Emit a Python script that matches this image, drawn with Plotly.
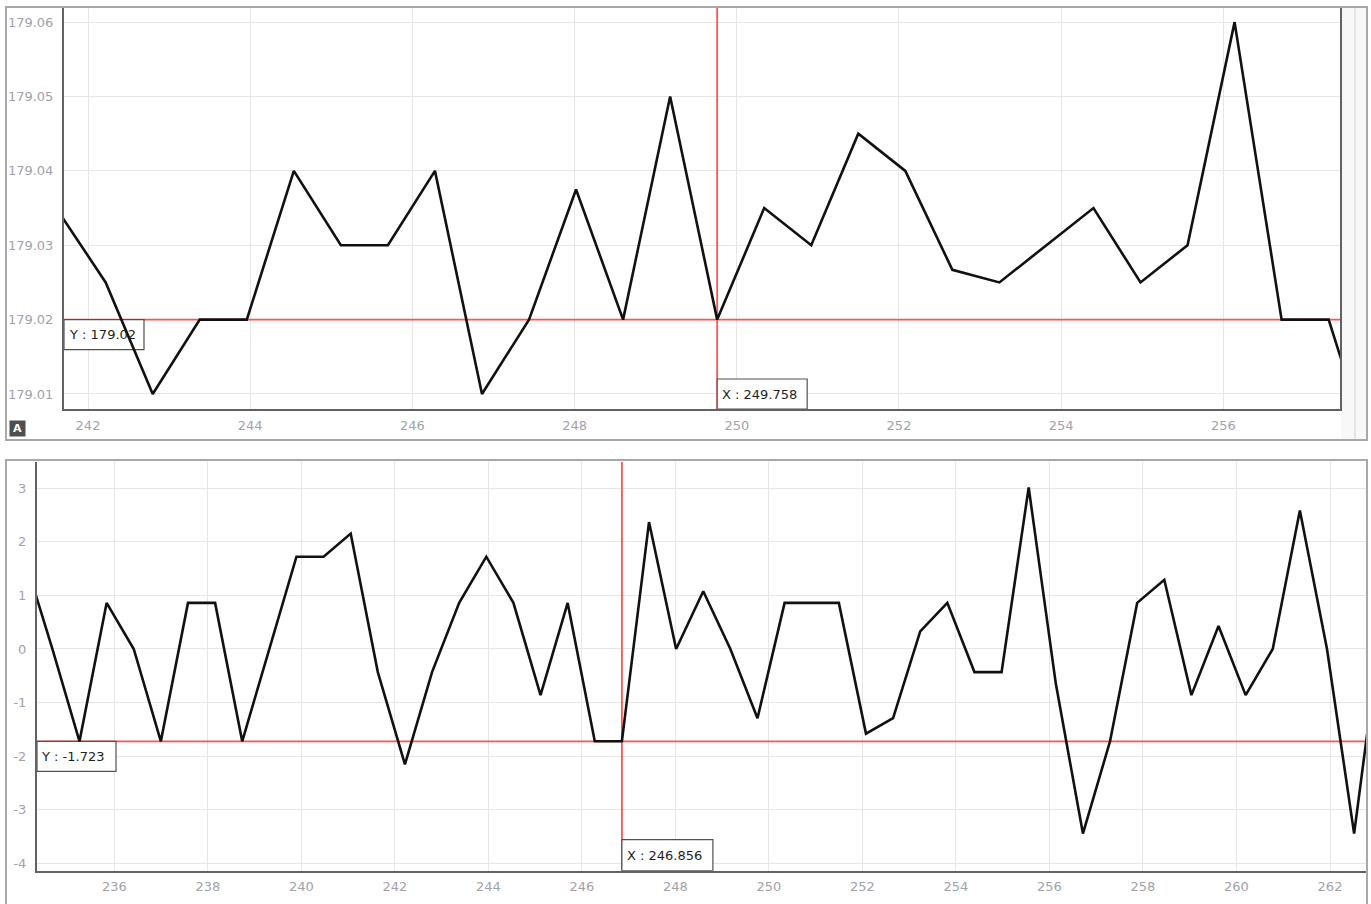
import plotly.graph_objects as go

W, H = 1371, 904

# ---------------- data ----------------
top_x = [241.638, 242.218, 242.798, 243.378, 243.958, 244.538, 245.118, 245.698,
         246.278, 246.858, 247.438, 248.018, 248.598, 249.178, 249.758, 250.338,
         250.918, 251.498, 252.078, 252.658, 253.238, 253.818, 254.398, 254.978,
         255.558, 256.138, 256.718, 257.298, 257.878]
top_y = [179.0345, 179.025, 179.010, 179.020, 179.020, 179.040, 179.030, 179.030,
         179.040, 179.010, 179.020, 179.0375, 179.020, 179.050, 179.020, 179.035,
         179.030, 179.045, 179.040, 179.0267, 179.025, 179.030, 179.035, 179.025,
         179.030, 179.060, 179.020, 179.020, 179.000]

bot_x = [234.096, 234.676, 235.256, 235.836, 236.416, 236.996, 237.576, 238.156,
         238.736, 239.316, 239.896, 240.476, 241.056, 241.636, 242.216, 242.796,
         243.376, 243.956, 244.536, 245.116, 245.696, 246.276, 246.856, 247.436,
         248.016, 248.596, 249.176, 249.756, 250.336, 250.916, 251.496, 252.076,
         252.656, 253.236, 253.816, 254.396, 254.976, 255.556, 256.136, 256.716,
         257.296, 257.876, 258.456, 259.036, 259.616, 260.196, 260.776, 261.356,
         261.936, 262.516, 263.096]
bot_y = [1.65, 0.0, -1.723, 0.861, 0.0, -1.723, 0.861, 0.861,
         -1.723, 0.0, 1.723, 1.723, 2.154, -0.431, -2.154, -0.431,
         0.861, 1.723, 0.861, -0.861, 0.861, -1.723, -1.723, 2.369,
         0.0, 1.077, 0.0, -1.292, 0.861, 0.861, 0.861, -1.58,
         -1.292, 0.33, 0.861, -0.431, -0.431, 3.015, -0.646, -3.446,
         -1.723, 0.861, 1.292, -0.861, 0.431, -0.861, 0.0, 2.585,
         0.0, -3.446, 0.431]

top_xticks = [242, 244, 246, 248, 250, 252, 254, 256]
top_xticktext = ["242", "244", "246", "248", "250", "252", "254", "256"]
top_yticks = [179.01, 179.02, 179.03, 179.04, 179.05, 179.06]
top_yticktext = ["179.01", "179.02", "179.03", "179.04", "179.05", "179.06"]

bot_xticks = [236, 238, 240, 242, 244, 246, 248, 250, 252, 254, 256, 258, 260, 262]
bot_xticktext = [str(v) for v in bot_xticks]
bot_yticks = [-4, -3, -2, -1, 0, 1, 2, 3]
bot_yticktext = ["-4", "-3", "-2", "-1", "0", "1", "2", "3"]

top_cross = (249.758, 179.02)
bot_cross = (246.856, -1.723)

top_xrange = [241.704, 257.438]
top_yrange = [179.00798, 179.0619]
bot_xrange = [234.347, 262.77]
bot_yrange = [-4.139, 3.491]

# ---------------- styling ----------------
FONT = "DejaVu Sans"
TICK_COLOR = "#a2a2aa"
GRID = "#e6e6e6"
AXLINE = "#626262"
PANEL = "#a8a8a8"
RED = "#ff5252"


def px(x):
    return x / W


def py(y):
    return 1 - y / H


fig = go.Figure()
fig.add_trace(go.Scatter(x=top_x, y=top_y, mode="lines", xaxis="x", yaxis="y",
                         line=dict(color="#111111", width=2.6), hoverinfo="skip"))
fig.add_trace(go.Scatter(x=bot_x, y=bot_y, mode="lines", xaxis="x2", yaxis="y2",
                         line=dict(color="#111111", width=2.6), hoverinfo="skip"))

common_axis = dict(showgrid=True, gridcolor=GRID, gridwidth=1, zeroline=False,
                   showline=True, linecolor=AXLINE, linewidth=2,
                   tickfont=dict(family=FONT, size=13, color=TICK_COLOR),
                   ticks="", fixedrange=True)

fig.update_layout(
    width=W, height=H,
    margin=dict(l=0, r=0, t=0, b=0),
    paper_bgcolor="white", plot_bgcolor="white",
    showlegend=False,
    xaxis=dict(common_axis, domain=[px(64), px(1340)], range=top_xrange,
               tickvals=top_xticks, ticktext=top_xticktext, anchor="y",
               ticklabelstandoff=3),
    yaxis=dict(common_axis, domain=[py(409), py(8)], range=top_yrange,
               tickvals=top_yticks, ticktext=top_yticktext, anchor="x",
               mirror=True, ticklabelstandoff=6),
    xaxis2=dict(common_axis, domain=[px(37), px(1366)], range=bot_xrange,
                tickvals=bot_xticks, ticktext=bot_xticktext, anchor="y2",
                ticklabelstandoff=3),
    yaxis2=dict(common_axis, domain=[py(870.7), py(462)], range=bot_yrange,
                tickvals=bot_yticks, ticktext=bot_yticktext, anchor="x2",
                ticklabelstandoff=6),
)

shapes = []
# panel frames
shapes.append(dict(type="rect", xref="paper", yref="paper",
                   x0=px(1341), x1=px(1367), y0=py(440), y1=py(7),
                   fillcolor="#f8f8f8", line=dict(width=0), layer="below"))
shapes.append(dict(type="line", xref="paper", yref="paper",
                   x0=px(1355), x1=px(1355), y0=py(440), y1=py(8),
                   line=dict(color="#d2d2d2", width=1), layer="above"))
shapes.append(dict(type="rect", xref="paper", yref="paper",
                   x0=px(6), x1=px(1367), y0=py(440), y1=py(7),
                   line=dict(color=PANEL, width=2), layer="above"))
shapes.append(dict(type="rect", xref="paper", yref="paper",
                   x0=px(6), x1=px(1367), y0=py(915), y1=py(460),
                   line=dict(color=PANEL, width=2), layer="above"))

# crosshairs
for xr, yr, (cx, cy), xrg, yrg in (("x", "y", top_cross, top_xrange, top_yrange),
                                   ("x2", "y2", bot_cross, bot_xrange, bot_yrange)):
    shapes.append(dict(type="line", xref=xr, yref=yr, x0=cx, x1=cx,
                       y0=yrg[0], y1=yrg[1], line=dict(color=RED, width=1.8),
                       layer="between"))
    shapes.append(dict(type="line", xref=xr, yref=yr, x0=xrg[0], x1=xrg[1],
                       y0=cy, y1=cy, line=dict(color=RED, width=1.8),
                       layer="between"))


# label boxes (pixel sized, anchored to crosshair values / axis edges)
def box(xref, yref, xanchor, yanchor, x0, x1, y0, y1):
    return dict(type="rect", xref=xref, yref=yref,
                xsizemode="pixel", xanchor=xanchor, x0=x0, x1=x1,
                ysizemode="pixel", yanchor=yanchor, y0=y0, y1=y1,
                fillcolor="white", line=dict(color="#505050", width=1.2),
                layer="between")


shapes.append(box("x", "y", top_cross[0], top_yrange[0], 0, 90, 0, 30))
shapes.append(box("x", "y", top_xrange[0], top_cross[1], 0, 80, -30, 0))
shapes.append(box("x2", "y2", bot_cross[0], bot_yrange[0], 0, 91, 0, 31))
shapes.append(box("x2", "y2", bot_xrange[0], bot_cross[1], 0, 79, -30, 0))
fig.update_layout(shapes=shapes)

lab_font = dict(family=FONT, size=13, color="#1e1e1e")
annots = [
    dict(xref="x", yref="y", x=top_cross[0], y=top_yrange[0], xanchor="left",
         yanchor="middle", xshift=3, yshift=15, text=f"X : {top_cross[0]:.3f}",
         showarrow=False, font=lab_font),
    dict(xref="x", yref="y", x=top_xrange[0], y=top_cross[1], xanchor="left",
         yanchor="middle", xshift=3, yshift=-15, text=f"Y : {top_cross[1]:.2f}",
         showarrow=False, font=lab_font),
    dict(xref="x2", yref="y2", x=bot_cross[0], y=bot_yrange[0], xanchor="left",
         yanchor="middle", xshift=3, yshift=15, text=f"X : {bot_cross[0]:.3f}",
         showarrow=False, font=lab_font),
    dict(xref="x2", yref="y2", x=bot_xrange[0], y=bot_cross[1], xanchor="left",
         yanchor="middle", xshift=2, yshift=-15, text=f"Y : {bot_cross[1]:.3f}",
         showarrow=False, font=lab_font),
    dict(xref="paper", yref="paper", x=px(9), y=py(420), xanchor="left",
         yanchor="top", text="<b>A</b>", showarrow=False,
         font=dict(family=FONT, size=11, color="white"),
         bgcolor="#4e4e4e", width=13, height=13, borderpad=1),
]
fig.update_layout(annotations=annots)

fig.write_html("out.html",
               config={"displayModeBar": False},
               post_script="document.body.style.margin='0';"
                           "document.body.style.overflow='hidden';")
